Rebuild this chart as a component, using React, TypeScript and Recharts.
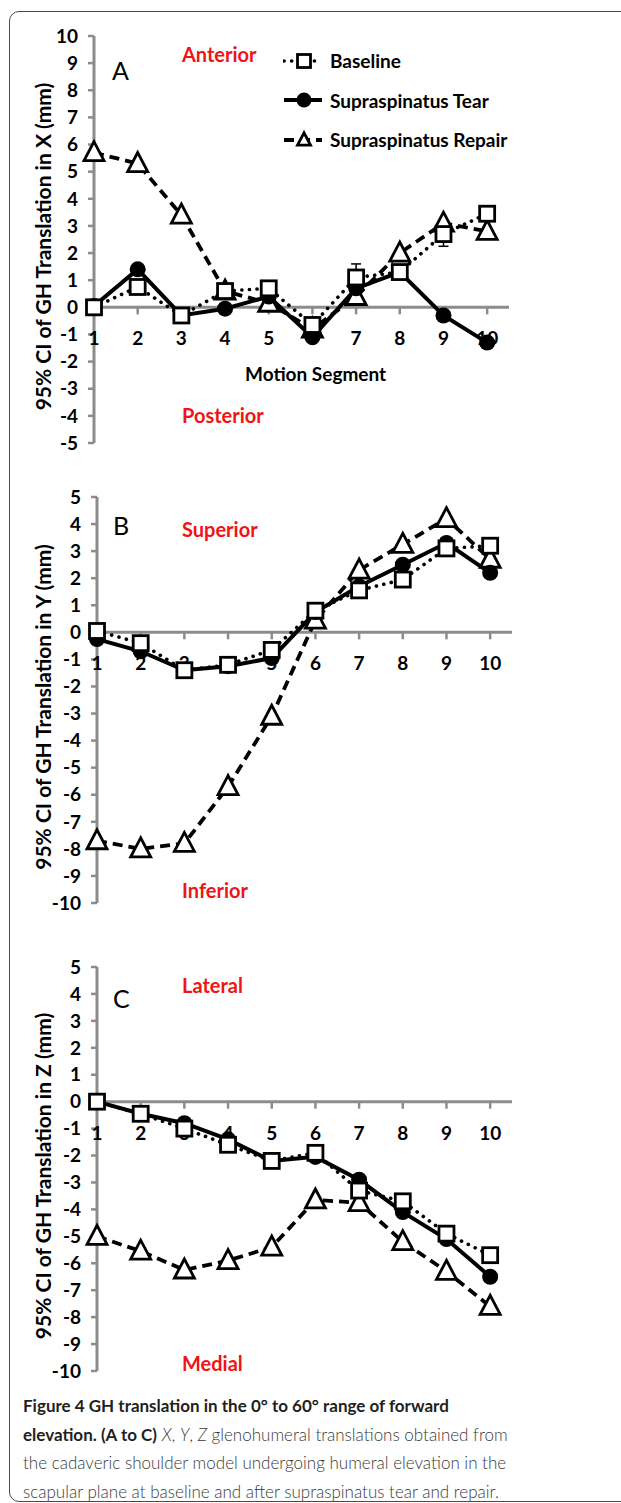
import React from "react";
import {
  LineChart,
  Line,
  XAxis,
  YAxis,
  ReferenceLine,
  ReferenceDot,
  Legend,
  ErrorBar,
} from "recharts";

const segments = [1, 2, 3, 4, 5, 6, 7, 8, 9, 10];
const seriesNames = ["Baseline", "Supraspinatus Tear", "Supraspinatus Repair"];

// A: translation in X (anterior / posterior)
const baselineX = [0.0, 0.75, -0.3, 0.6, 0.7, -0.65, 1.1, 1.3, 2.7, 3.45];
const tearX = [0.05, 1.4, -0.3, -0.05, 0.4, -1.1, 0.7, 1.3, -0.3, -1.3];
const repairX = [5.7, 5.3, 3.4, 0.6, 0.15, -0.8, 0.4, 2.0, 3.1, 2.8];
const baselineErrX = [0.1, 0.15, 0.1, 0.1, 0.1, 0.1, 0.5, 0.15, 0.45, 0.15];

// B: translation in Y (superior / inferior)
const baselineY = [0.05, -0.4, -1.4, -1.2, -0.65, 0.8, 1.55, 1.95, 3.1, 3.2];
const tearY = [-0.25, -0.7, -1.4, -1.25, -0.95, 0.75, 1.7, 2.5, 3.3, 2.2];
const repairY = [-7.7, -8.0, -7.8, -5.7, -3.1, 0.45, 2.3, 3.25, 4.2, 2.7];

// C: translation in Z (lateral / medial)
const baselineZ = [0.0, -0.45, -1.0, -1.6, -2.2, -1.9, -3.3, -3.7, -4.9, -5.7];
const tearZ = [0.0, -0.45, -0.8, -1.4, -2.2, -2.05, -2.9, -4.1, -5.1, -6.5];
const repairZ = [-5.0, -5.55, -6.25, -5.9, -5.4, -3.65, -3.75, -5.2, -6.3, -7.6];

const ticksA = [-5, -4, -3, -2, -1, 0, 1, 2, 3, 4, 5, 6, 7, 8, 9, 10];
const ticksBC = [-10, -9, -8, -7, -6, -5, -4, -3, -2, -1, 0, 1, 2, 3, 4, 5];

const FONT = "Lato, 'Open Sans', sans-serif";
const GRAY = "#8c8c8c";
const RED = "#f01414";

const makeRows = (b: number[], t: number[], r: number[], be?: number[]) =>
  segments.map((s, i) => ({
    seg: s,
    baseline: b[i],
    tear: t[i],
    repair: r[i],
    baselineErr: be ? be[i] : 0,
  }));

const rowsA = makeRows(baselineX, tearX, repairX, baselineErrX);
const rowsB = makeRows(baselineY, tearY, repairY);
const rowsC = makeRows(baselineZ, tearZ, repairZ);

const Square = ({ cx, cy, s = 7.5 }: any) =>
  cx == null ? null : (
    <rect x={cx - s} y={cy - s} width={s * 2} height={s * 2} fill="#fff" stroke="#000" strokeWidth={2.8} />
  );
const Circle = ({ cx, cy, r = 8 }: any) =>
  cx == null ? null : <circle cx={cx} cy={cy} r={r} fill="#000" />;
const Triangle = ({ cx, cy, s = 10 }: any) =>
  cx == null ? null : (
    <polygon
      points={`${cx},${cy - s * 1.1} ${cx - s},${cy + s * 0.8} ${cx + s},${cy + s * 0.8}`}
      fill="#fff"
      stroke="#000"
      strokeWidth={2.8}
      strokeLinejoin="miter"
    />
  );

const styles: Record<string, any> = {
  baseline: { w: 3.6, dash: "0.1 7.5", cap: "round", marker: Square },
  tear: { w: 4, dash: undefined, cap: "butt", marker: Circle },
  repair: { w: 3.8, dash: "10 6", cap: "butt", marker: Triangle },
};

function renderLegend(props: any) {
  const order = ["baseline", "tear", "repair"];
  const items = order
    .map((k) => (props.payload || []).find((p: any) => p.dataKey === k))
    .filter(Boolean);
  return (
    <div style={{ fontFamily: FONT, fontWeight: 700, fontSize: 19, color: "#000" }}>
      {items.map((item: any) => {
        const st = styles[item.dataKey];
        const M = st.marker;
        return (
          <div key={item.dataKey} style={{ display: "flex", alignItems: "center", height: 39.5 }}>
            <svg width={44} height={24} style={{ marginRight: 3 }}>
              <line
                x1={1}
                x2={39}
                y1={12}
                y2={12}
                stroke="#000"
                strokeWidth={st.w}
                strokeDasharray={st.dash}
                strokeLinecap={st.cap}
              />
              <M cx={21} cy={12} s={6.5} r={7.5} />
            </svg>
            <span>{item.value}</span>
          </div>
        );
      })}
    </div>
  );
}

function AxisTick({ cx, cy, label }: any) {
  if (cx == null) return null;
  return (
    <g>
      <line x1={cx} x2={cx} y1={cy} y2={cy + 7} stroke={GRAY} strokeWidth={2.5} />
      <text
        x={cx}
        y={cy + 38}
        textAnchor="middle"
        fontFamily={FONT}
        fontWeight={700}
        fontSize={19}
        fill="#000"
      >
        {label}
      </text>
    </g>
  );
}

type PanelProps = {
  top: number;
  height: number;
  rows: any[];
  yDomain: [number, number];
  yTicks: number[];
  margin: { top: number; right: number; bottom: number; left: number };
  yWidth: number;
  yLabel: string;
  legend?: boolean;
  errors?: boolean;
};

function Panel({ top, height, rows, yDomain, yTicks, margin, yWidth, yLabel, legend, errors }: PanelProps) {
  return (
    <div style={{ position: "absolute", left: 0, top }}>
      <LineChart width={621} height={height} data={rows} margin={margin}>
        <XAxis dataKey="seg" type="number" domain={[1, 10.5]} ticks={segments} hide />
        <YAxis
          type="number"
          domain={yDomain}
          ticks={yTicks}
          interval={0}
          width={yWidth}
          axisLine={{ stroke: GRAY, strokeWidth: 3 }}
          tickLine={{ stroke: GRAY, strokeWidth: 2.5 }}
          tickSize={6}
          tickMargin={10}
          tick={{ fontFamily: FONT, fontWeight: 700, fontSize: 19, fill: "#000" }}
          label={{
            content: (p: any) => {
              const vb = p.viewBox || {};
              const x = vb.x + 42;
              const y = vb.y + vb.height / 2 + 7;
              return (
                <text
                  x={x}
                  y={y}
                  transform={`rotate(-90 ${x} ${y})`}
                  textAnchor="middle"
                  dominantBaseline="central"
                  fontFamily={FONT}
                  fontWeight={700}
                  fontSize={21}
                  fill="#000"
                >
                  {yLabel}
                </text>
              );
            },
          }}
        />
        <ReferenceLine y={0} stroke={GRAY} strokeWidth={3} />
        {segments.map((s) => (
          <ReferenceDot
            key={s}
            x={s}
            y={0}
            r={0}
            ifOverflow="visible"
            shape={(p: any) => <AxisTick cx={p.cx} cy={p.cy} label={s} />}
          />
        ))}
        <Line
          dataKey="repair"
          name={seriesNames[2]}
          stroke="#000"
          strokeWidth={styles.repair.w}
          strokeDasharray={styles.repair.dash}
          dot={(p: any) => <Triangle key={p.index} cx={p.cx} cy={p.cy} />}
          activeDot={false}
          isAnimationActive={false}
        />
        <Line
          dataKey="tear"
          name={seriesNames[1]}
          stroke="#000"
          strokeWidth={styles.tear.w}
          dot={(p: any) => <Circle key={p.index} cx={p.cx} cy={p.cy} />}
          activeDot={false}
          isAnimationActive={false}
        />
        <Line
          dataKey="baseline"
          name={seriesNames[0]}
          stroke="#000"
          strokeWidth={styles.baseline.w}
          strokeDasharray={styles.baseline.dash}
          strokeLinecap="round"
          dot={(p: any) => <Square key={p.index} cx={p.cx} cy={p.cy} />}
          activeDot={false}
          isAnimationActive={false}
        >
          {errors && (
            <ErrorBar dataKey="baselineErr" direction="y" width={5} stroke="#000" strokeWidth={1.5} />
          )}
        </Line>
        {legend && (
          <Legend
            layout="vertical"
            align="center"
            verticalAlign="middle"
            wrapperStyle={{ top: 41, left: 283, width: 250 }}
            content={renderLegend}
          />
        )}
      </LineChart>
    </div>
  );
}

const abs = (left: number, top: number, extra: React.CSSProperties = {}): React.CSSProperties => ({
  position: "absolute",
  left,
  top,
  lineHeight: 1,
  whiteSpace: "nowrap",
  fontFamily: FONT,
  ...extra,
});

const redStyle = { color: RED, fontWeight: 700, fontSize: 20 };
const letterStyle = { color: "#000", fontWeight: 400, fontSize: 25 };

export default function App() {
  return (
    <div
      style={{
        position: "relative",
        width: 621,
        height: 1503,
        overflow: "hidden",
        background: "#fff",
      }}
    >
      <style>{`body{margin:0}`}</style>
      <div
        style={{
          position: "absolute",
          left: 9,
          top: 11,
          width: 760,
          height: 1489,
          border: "1.5px solid #4a4a4a",
          borderRadius: 10,
        }}
      />
      <Panel
        top={0}
        height={480}
        rows={rowsA}
        yDomain={[-5, 10]}
        yTicks={ticksA}
        margin={{ top: 36, right: 112, bottom: 37, left: 0 }}
        yWidth={94}
        yLabel="95% CI of GH Translation in X (mm)"
        legend
        errors
      />
      <Panel
        top={470}
        height={470}
        rows={rowsB}
        yDomain={[-10, 5]}
        yTicks={ticksBC}
        margin={{ top: 27, right: 109, bottom: 37, left: 0 }}
        yWidth={97}
        yLabel="95% CI of GH Translation in Y (mm)"
      />
      <Panel
        top={940}
        height={470}
        rows={rowsC}
        yDomain={[-10, 5]}
        yTicks={ticksBC}
        margin={{ top: 27, right: 109, bottom: 39, left: 0 }}
        yWidth={97}
        yLabel="95% CI of GH Translation in Z (mm)"
      />

      <div style={abs(112, 58, letterStyle)}>A</div>
      <div style={abs(182, 44, redStyle)}>Anterior</div>
      <div style={abs(182, 405, redStyle)}>Posterior</div>
      <div style={abs(245, 364, { fontWeight: 700, fontSize: 19 })}>Motion Segment</div>

      <div style={abs(113, 513, letterStyle)}>B</div>
      <div style={abs(182, 519, redStyle)}>Superior</div>
      <div style={abs(182, 880, redStyle)}>Inferior</div>

      <div style={abs(113, 986, letterStyle)}>C</div>
      <div style={abs(182, 975, redStyle)}>Lateral</div>
      <div style={abs(182, 1353, redStyle)}>Medial</div>

      <div
        style={{
          position: "absolute",
          left: 23,
          top: 1392,
          fontFamily: FONT,
          fontSize: 17,
          lineHeight: "28.7px",
          whiteSpace: "nowrap",
          color: "#3a3a3a",
          fontWeight: 300,
        }}
      >
        <span style={{ fontWeight: 700, color: "#231f20" }}>
          Figure 4 GH translation in the 0° to 60° range of forward
        </span>
        <br />
        <span style={{ fontWeight: 700, color: "#231f20" }}>elevation. (A to C)</span>{" "}
        <i>X</i>, <i>Y</i>, <i>Z</i> glenohumeral translations obtained from
        <br />
        the cadaveric shoulder model undergoing humeral elevation in the
        <br />
        scapular plane at baseline and after supraspinatus tear and repair.
      </div>
    </div>
  );
}
